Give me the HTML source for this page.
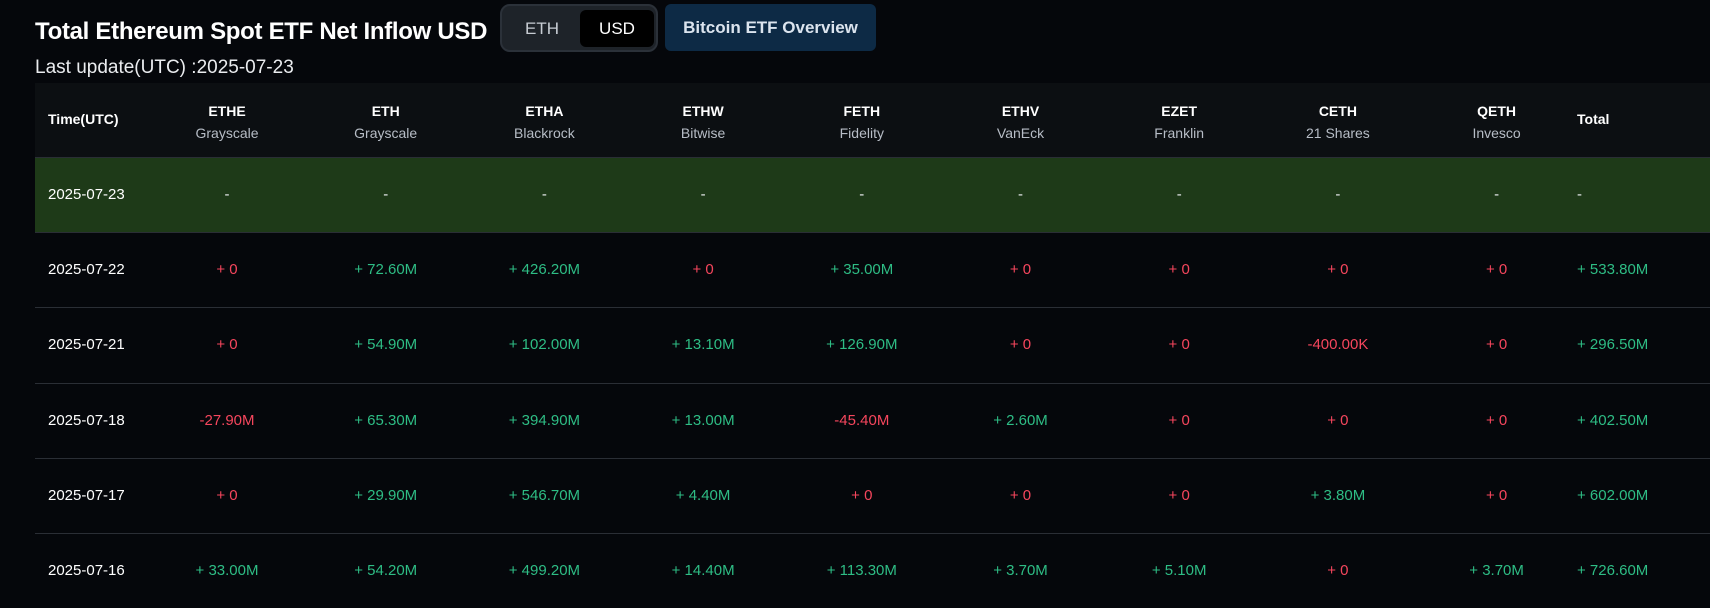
<!DOCTYPE html>
<html><head><meta charset="utf-8"><style>
*{box-sizing:border-box;margin:0;padding:0}
body{width:1710px;height:608px;background:#05070b;font-family:"Liberation Sans Narrow","Liberation Sans",sans-serif;color:#eaecef;position:relative;overflow:hidden}
.abs{position:absolute}
#title{left:35px;top:18px;font-size:24px;font-weight:bold;color:#fff;letter-spacing:-0.3px}
#sub{left:35px;top:57px;font-size:19px;color:#eaecef}
#toggle{left:500px;top:4px;width:158px;height:48px;background:#1e2329;border:2px solid #2b3139;border-radius:10px}
#toggle span{position:absolute;top:4px;height:37px;line-height:37px;font-size:17px;text-align:center;color:#c7ccd3}
#btc{left:665px;top:4px;width:211px;height:47px;background:#0d2a45;border-radius:6px;color:#dbe4ee;font-weight:bold;font-size:17px;text-align:center;line-height:47px}
#table{left:35px;top:83px;width:1675px;height:525px}
.hdr{position:absolute;left:0;top:0;width:100%;height:74px;background:#0c0f12}
.row{position:absolute;left:0;width:100%;height:75px;border-top:1px solid #2a2e35}
.c{position:absolute;transform:translateX(-50%);white-space:nowrap;font-size:15px}
.g{color:#2ebd85}.r{color:#f6465d}
</style></head><body>
<div class="abs" id="title">Total Ethereum Spot ETF Net Inflow USD</div>
<div class="abs" id="sub">Last update(UTC) :2025-07-23</div>
<div class="abs" id="toggle">
<span style="left:4px;width:72px">ETH</span>
<span style="left:78px;width:74px;background:#000;border-radius:6px;color:#fff">USD</span>
</div>
<div class="abs" id="btc">Bitcoin ETF Overview</div>
<div class="abs" id="table"></div>
<script>
const tickers=["ETHE","ETH","ETHA","ETHW","FETH","ETHV","EZET","CETH","QETH"];
const issuers=["Grayscale","Grayscale","Blackrock","Bitwise","Fidelity","VanEck","Franklin","21 Shares","Invesco"];
const dates=["2025-07-23","2025-07-22","2025-07-21","2025-07-18","2025-07-17","2025-07-16"];
const r0=[null,null,null,null,null,null,null,null,null,null];
const r1=["+ 0","+ 72.60M","+ 426.20M","+ 0","+ 35.00M","+ 0","+ 0","+ 0","+ 0","+ 533.80M"];
const r2=["+ 0","+ 54.90M","+ 102.00M","+ 13.10M","+ 126.90M","+ 0","+ 0","-400.00K","+ 0","+ 296.50M"];
const r3=["-27.90M","+ 65.30M","+ 394.90M","+ 13.00M","-45.40M","+ 2.60M","+ 0","+ 0","+ 0","+ 402.50M"];
const r4=["+ 0","+ 29.90M","+ 546.70M","+ 4.40M","+ 0","+ 0","+ 0","+ 3.80M","+ 0","+ 602.00M"];
const r5=["+ 33.00M","+ 54.20M","+ 499.20M","+ 14.40M","+ 113.30M","+ 3.70M","+ 5.10M","+ 0","+ 3.70M","+ 726.60M"];
const rows=[r0,r1,r2,r3,r4,r5];
const T=document.getElementById('table');
const colX=i=>192+i*158.7;
const totalX=1542;
const hdr=document.createElement('div');hdr.className='hdr';


T.appendChild(hdr);
let h=document.createElement('div');h.className='c';h.style.cssText='left:13px;top:28px;transform:none;font-size:14px;font-weight:bold;color:#fff';h.textContent='Time(UTC)';


hdr.appendChild(h);
tickers.forEach((t,i)=>{const d=document.createElement('div');d.className='c';d.style.cssText=`left:${colX(i)}px;top:17px;text-align:center;font-size:14px;line-height:22px`;
d.innerHTML=`<b style="color:#fff">${t}</b><br><span style="color:#b7bdc6">${issuers[i]}</span>`;


hdr.appendChild(d);});
h=document.createElement('div');h.className='c';h.style.cssText=`left:${totalX}px;top:28px;transform:none;font-size:14px;font-weight:bold;color:#fff`;h.textContent='Total';


hdr.appendChild(h);
dates.forEach((dt,ri)=>{const row=document.createElement('div');row.className='row';row.style.top=(74+ri*75.2)+'px';
if(ri===0){row.style.background='#1e3a18';}


T.appendChild(row);
const dd=document.createElement('div');dd.className='c';dd.style.cssText='left:13px;top:28px;transform:none;color:#fff';dd.textContent=dt;


row.appendChild(dd);
rows[ri].forEach((v,ci)=>{const c=document.createElement('div');c.className='c';
const x=ci<9?colX(ci):totalX;
c.style.left=x+'px';c.style.top='28px';if(ci===9)c.style.transform='none';
if(v===null){c.textContent='-';c.style.color='#eaecef';}
else{c.textContent=v;c.classList.add(v.startsWith('-')||v==='+ 0'?'r':'g');}


row.appendChild(c);});
});
</script>
</body></html>
